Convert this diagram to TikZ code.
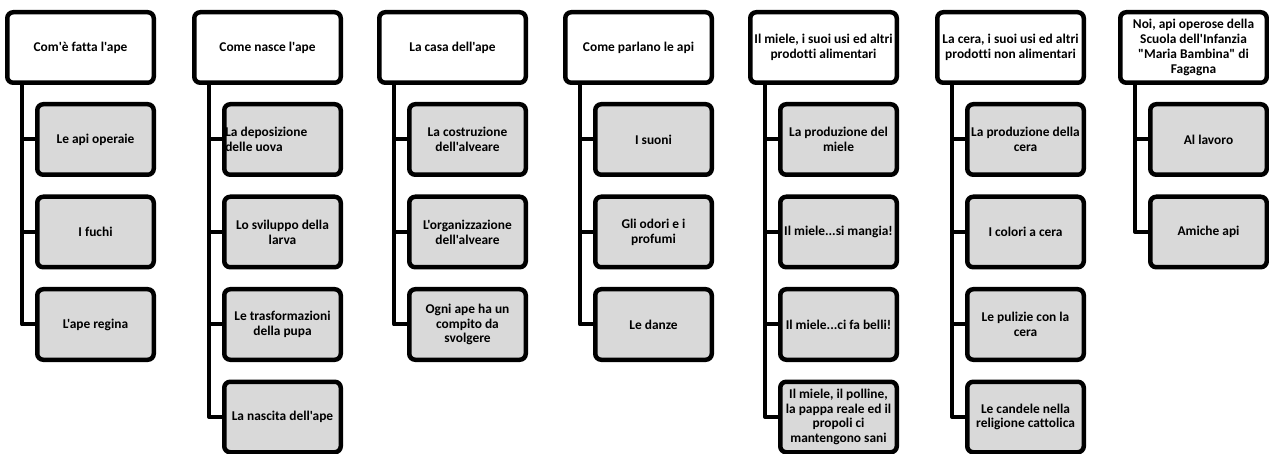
\documentclass[tikz,border=0pt]{standalone}
\usepackage{fontspec}
\setmainfont{Carlito}[Ligatures={TeXOff,NoCommon}]
\definecolor{boxgray}{HTML}{D9D9D9}
\tikzset{
  topbox/.style={draw, line width=4.5pt, rounded corners=6pt, fill=white,
    minimum width=146.5pt, minimum height=70.5pt, align=center, inner sep=1pt,
    font=\bfseries\fontsize{13.4}{14.8}\selectfont},
  subbox/.style={topbox, fill=boxgray, minimum width=116.5pt},
  link/.style={line width=4pt, line join=round},
}
\begin{document}
\begin{tikzpicture}[x=1pt,y=-1pt]
\useasboundingbox (0,0) rectangle (1269,454);
% column 1
\node[topbox] (t1) at (80.5,47.5) {Com'è fatta l'ape};
\node[subbox] (c11) at (95.5,139.5) {Le api operaie};
\node[subbox] (c12) at (95.5,232) {I fuchi};
\node[subbox] (c13) at (95.5,324.5) {L'ape regina};
\coordinate (v1) at (22,0);
% column 2
\node[topbox] (t2) at (267.5,47.5) {Come nasce l'ape};
\node[subbox, align=flush left, text width=114.5pt] (c21) at (282.5,139.5) {La deposizione\\delle uova};
\node[subbox] (c22) at (282.5,232) {Lo sviluppo della\\larva};
\node[subbox] (c23) at (282.5,324.5) {Le trasformazioni\\della pupa};
\node[subbox] (c24) at (282.5,417) {La nascita dell'ape};
\coordinate (v2) at (209,0);
% column 3
\node[topbox] (t3) at (452.5,47.5) {La casa dell'ape};
\node[subbox] (c31) at (467.5,139.5) {La costruzione\\dell'alveare};
\node[subbox] (c32) at (467.5,232) {L'organizzazione\\dell'alveare};
\node[subbox] (c33) at (467.5,324.5) {Ogni ape ha un\\compito da\\svolgere};
\coordinate (v3) at (394,0);
% column 4
\node[topbox] (t4) at (638.5,47.5) {Come parlano le api};
\node[subbox] (c41) at (653.5,139.5) {I suoni};
\node[subbox] (c42) at (653.5,232) {Gli odori e i\\profumi};
\node[subbox] (c43) at (653.5,324.5) {Le danze};
\coordinate (v4) at (580,0);
% column 5
\node[topbox] (t5) at (823.5,47.5) {Il miele, i suoi usi ed altri\\prodotti alimentari};
\node[subbox] (c51) at (838.5,139.5) {La produzione del\\miele};
\node[subbox] (c52) at (838.5,232) {Il miele...si mangia!};
\node[subbox] (c53) at (838.5,324.5) {Il miele...ci fa belli!};
\node[subbox] (c54) at (838.5,417) {Il miele, il polline,\\la pappa reale ed il\\propoli ci\\mantengono sani};
\coordinate (v5) at (765,0);
% column 6
\node[topbox] (t6) at (1010.5,47.5) {La cera, i suoi usi ed altri\\prodotti non alimentari};
\node[subbox] (c61) at (1025.5,139.5) {La produzione della\\cera};
\node[subbox] (c62) at (1025.5,232) {I colori a cera};
\node[subbox] (c63) at (1025.5,324.5) {Le pulizie con la\\cera};
\node[subbox] (c64) at (1025.5,417) {Le candele nella\\religione cattolica};
\coordinate (v6) at (952,0);
% column 7
\node[topbox] (t7) at (1193.5,47.5) {Noi, api operose della\\Scuola dell'Infanzia\\"Maria Bambina" di\\Fagagna};
\node[subbox] (c71) at (1208.5,139.5) {Al lavoro};
\node[subbox] (c72) at (1208.5,232) {Amiche api};
\coordinate (v7) at (1135,0);
% connectors
\draw[link] (t1.south -| v1) |- (c13.west);
\draw[link] (t1.south -| v1) |- (c11.west);
\draw[link] (t1.south -| v1) |- (c12.west);
\draw[link] (t2.south -| v2) |- (c24.west);
\draw[link] (t2.south -| v2) |- (c21.west);
\draw[link] (t2.south -| v2) |- (c22.west);
\draw[link] (t2.south -| v2) |- (c23.west);
\draw[link] (t3.south -| v3) |- (c33.west);
\draw[link] (t3.south -| v3) |- (c31.west);
\draw[link] (t3.south -| v3) |- (c32.west);
\draw[link] (t4.south -| v4) |- (c43.west);
\draw[link] (t4.south -| v4) |- (c41.west);
\draw[link] (t4.south -| v4) |- (c42.west);
\draw[link] (t5.south -| v5) |- (c54.west);
\draw[link] (t5.south -| v5) |- (c51.west);
\draw[link] (t5.south -| v5) |- (c52.west);
\draw[link] (t5.south -| v5) |- (c53.west);
\draw[link] (t6.south -| v6) |- (c64.west);
\draw[link] (t6.south -| v6) |- (c61.west);
\draw[link] (t6.south -| v6) |- (c62.west);
\draw[link] (t6.south -| v6) |- (c63.west);
\draw[link] (t7.south -| v7) |- (c72.west);
\draw[link] (t7.south -| v7) |- (c71.west);
\end{tikzpicture}
\end{document}
